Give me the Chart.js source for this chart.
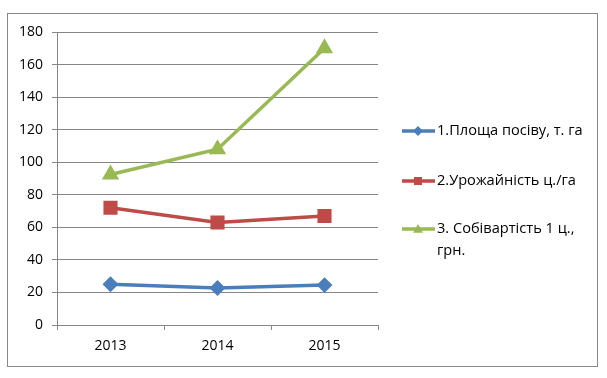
<!DOCTYPE html>
<html>
<head>
<meta charset="utf-8">
<script src="https://cdn.jsdelivr.net/npm/chart.js@4.4.1/dist/chart.umd.min.js"></script>
<style>
  html, body { margin: 0; padding: 0; background: #fff; }
  #wrap { width: 607px; height: 378px; position: relative; }
</style>
</head>
<body>
<div id="wrap"><canvas id="chart_productionStats"></canvas></div>
<script>
var years = ['2013', '2014', '2015'];
var seriesArea = [25, 22.7, 24.5];
var seriesYield = [72, 63, 67];
var seriesCost = [92.5, 108, 170];
var legendLabels = [
    ['1.Площа посіву, т. га'],
    ['2.Урожайність ц./га'],
    ['3. Собівартість 1 ц.,', 'грн.']
];
var yTicks = [0, 20, 40, 60, 80, 100, 120, 140, 160, 180];

var fontFamily = '"Open Sans", "Liberation Sans", sans-serif';
var gridColor = '#868686';

function drawMarker(ctx, style, x, y, r, color) {
    ctx.save();
    ctx.fillStyle = color;
    ctx.beginPath();
    if (style === 'rectRot') {
        ctx.moveTo(x, y - r); ctx.lineTo(x + r, y); ctx.lineTo(x, y + r); ctx.lineTo(x - r, y);
    } else if (style === 'rect') {
        ctx.rect(x - r * 0.8, y - r * 0.8, r * 1.6, r * 1.6);
    } else {
        ctx.moveTo(x, y - r); ctx.lineTo(x + r, y + r * 0.75); ctx.lineTo(x - r, y + r * 0.75);
    }
    ctx.closePath();
    ctx.fill();
    ctx.restore();
}

var chart_productionStats = new Chart(document.getElementById('chart_productionStats'), {
    type: 'line',
    data: {
        labels: years,
        datasets: [
            {
                label: legendLabels[0].join(' '),
                data: seriesArea,
                borderColor: '#4a7ebb',
                backgroundColor: '#4a7ebb',
                pointStyle: 'rectRot',
                pointRadius: 5.5,
                borderWidth: 3.5
            },
            {
                label: legendLabels[1].join(' '),
                data: seriesYield,
                borderColor: '#be4b48',
                backgroundColor: '#be4b48',
                pointStyle: 'rect',
                pointRadius: 7.5,
                borderWidth: 3.5
            },
            {
                label: legendLabels[2].join(' '),
                data: seriesCost,
                borderColor: '#98b954',
                backgroundColor: '#98b954',
                pointStyle: 'triangle',
                pointRadius: 6.5,
                borderWidth: 3.5
            }
        ]
    },
    options: {
        animation: false,
        responsive: true,
        maintainAspectRatio: false,
        layout: {
            padding: { left: 0, top: 32, right: 229, bottom: 0 }
        },
        plugins: {
            legend: { display: false },
            tooltip: { enabled: false }
        },
        scales: {
            x: {
                type: 'category',
                offset: true,
                grid: {
                    offset: true,
                    drawOnChartArea: false,
                    color: gridColor,
                    tickLength: 5
                },
                border: { color: gridColor },
                ticks: {
                    color: '#000',
                    padding: 8,
                    maxRotation: 0,
                    font: { family: fontFamily, size: 14 }
                },
                afterFit: function(scale) { scale.height = 53; }
            },
            y: {
                min: 0,
                max: 180,
                afterBuildTicks: function(scale) {
                    scale.ticks = yTicks.map(function(v) { return { value: v }; });
                },
                grid: {
                    color: gridColor,
                    tickLength: 5
                },
                border: { color: gridColor },
                ticks: {
                    color: '#000',
                    padding: 9,
                    font: { family: fontFamily, size: 14 }
                },
                afterFit: function(scale) { scale.width = 57; }
            }
        }
    },
    plugins: [{
        id: 'frameAndLegend',
        beforeDraw: (chart) => {
            const ctx = chart.ctx;
            ctx.save();
            ctx.fillStyle = 'white';
            ctx.fillRect(0, 0, chart.width, chart.height);
            ctx.strokeStyle = '#888888';
            ctx.lineWidth = 1;
            ctx.strokeRect(7.5, 13.5, 590, 353);
            ctx.restore();
        },
        afterDraw: (chart) => {
            const ctx = chart.ctx;
            const rows = [131, 181, 229];
            ctx.save();
            ctx.font = '14.6px ' + fontFamily;
            ctx.textBaseline = 'middle';
            ctx.textAlign = 'left';
            chart.data.datasets.forEach(function(ds, i) {
                const y = rows[i];
                ctx.strokeStyle = ds.borderColor;
                ctx.lineWidth = 3.5;
                ctx.beginPath();
                ctx.moveTo(402, y);
                ctx.lineTo(435, y);
                ctx.stroke();
                drawMarker(ctx, ds.pointStyle, 418, y, 5, ds.backgroundColor);
                ctx.fillStyle = '#000';
                legendLabels[i].forEach(function(line, j) {
                    ctx.fillText(line, 437, y + j * 22);
                });
            });
            ctx.restore();
        }
    }]
});
</script>
</body>
</html>
